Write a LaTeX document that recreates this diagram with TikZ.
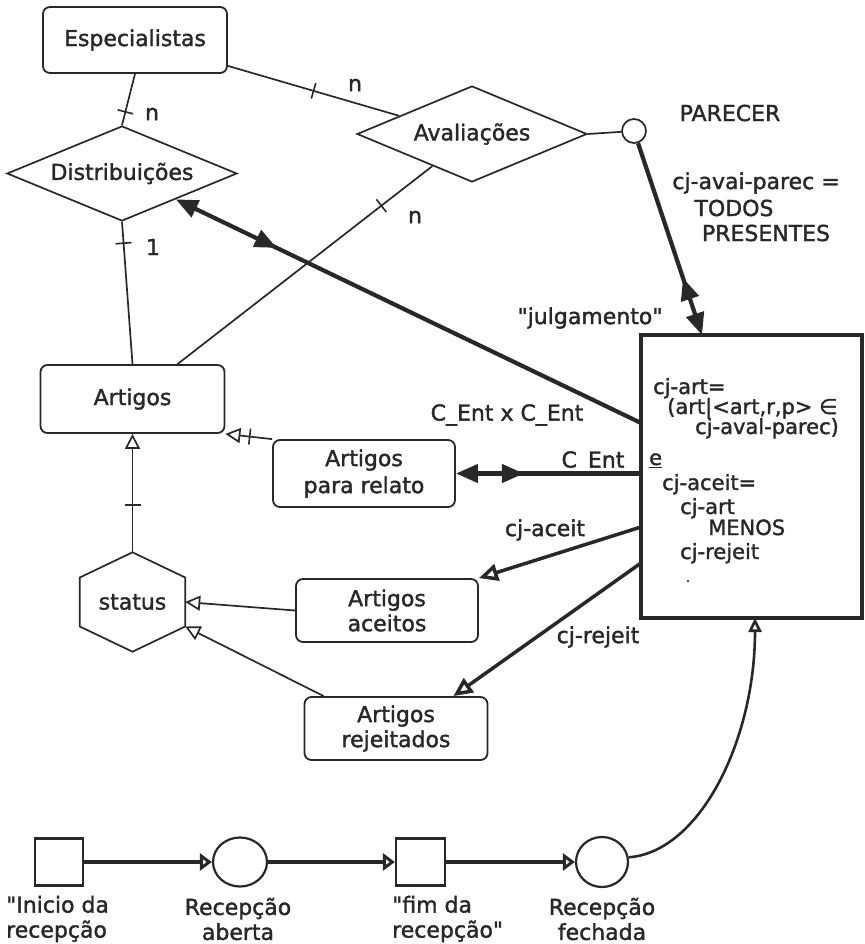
\documentclass[tikz,border=0pt]{standalone}
\usepackage{fontspec}
\setmainfont{DejaVu Sans}[FakeBold=1.6]
\usetikzlibrary{arrows.meta,shapes.geometric,decorations.markings,calc}

\definecolor{ink}{RGB}{40,40,38}
% straight double quote, set as a glyph so that no quote ligature applies
\newcommand\dq{\XeTeXglyph\XeTeXcharglyph"22\relax}

\begin{document}
\begin{tikzpicture}[x=1pt,y=-1pt,
  every node/.style={font=\fontsize{22}{26}\selectfont, text=ink, inner sep=0pt},
  ent/.style={draw=ink, line width=1.8pt, rounded corners=7pt, align=center},
  relship/.style={diamond, draw=ink, line width=1.7pt, shape aspect=2.4},
  lbl/.style={},
  boxtxt/.style={anchor=base west, font=\fontsize{21}{24}\selectfont},
  link/.style={draw=ink, line width=1.7pt},
  gen/.style={link, -{Triangle[open, length=15pt, width=15pt]}},
  bold/.style={draw=ink, line width=4.2pt},
  fhead/.tip={Triangle[length=22pt, width=18pt]},
  ohead/.tip={Triangle[open, length=19pt, width=17pt]},
  pn/.style={draw=ink, line width=3.5pt, -{Triangle[open, length=12pt, width=17pt]}},
  tickat/.style={postaction={decorate, decoration={markings,
      mark=at position #1 with {\draw[-, ink, line width=1.6pt] (0,-8pt) -- (0,8pt);}}}},
  midhead/.style={postaction={decorate, decoration={markings,
      mark=at position #1 with {\arrow[ink]{fhead}}}}},
  revhead/.style={postaction={decorate, decoration={markings,
      mark=at position #1 with {\arrowreversed[ink]{fhead}}}}},
]
\useasboundingbox (0,0) rectangle (864,944);

% ---------------- entity-relationship part ----------------
\node[ent, minimum width=184pt, minimum height=66pt] (esp) at (135,40) {Especialistas};
\node[relship, minimum width=230pt, minimum height=95pt] (dist) at (122,173.5) {Distribuições};
\node[relship, minimum width=230pt, minimum height=96pt] (aval) at (472,134) {Avaliações};
\node[draw=ink, circle, line width=1.7pt, minimum size=24pt] (par) at (634,131) {};
\node[ent, minimum width=184pt, minimum height=68pt] (art) at (132.5,399) {Artigos};
\node[ent, minimum width=182pt, minimum height=67pt, font=\fontsize{22}{27}\selectfont] (rel) at (364,473.5) {Artigos\\para relato};
\node[ent, minimum width=182pt, minimum height=63pt, font=\fontsize{22}{25}\selectfont] (acc) at (387,610.5) {Artigos\\aceitos};
\node[ent, minimum width=183pt, minimum height=63pt, font=\fontsize{22}{25}\selectfont] (rej) at (396,728.5) {Artigos\\rejeitados};

% status: hexagon drawn around a plain node
\node[minimum width=105pt, minimum height=99pt] (stat) at (132.5,602) {status};
\draw[draw=ink, line width=1.7pt] (stat.north) -- ($(stat.east)+(0,-24.5)$) -- ($(stat.east)+(0,24.5)$)
  -- (stat.south) -- ($(stat.west)+(0,24.5)$) -- ($(stat.west)+(0,-24.5)$) -- cycle;

% transition box
\node[draw=ink, line width=3.5pt, minimum width=221pt, minimum height=283pt] (box) at (751.5,476.5) {};
\node[boxtxt] (b1) at (653,394) {cj-art=};
\node[boxtxt] (b2) at (667,414) {(art|<art,r,p> ∈};
\node[boxtxt] (b3) at (695,434) {cj-aval-parec)};
\node[boxtxt] (b4) at (649,465) {\underline{e}};
\node[boxtxt] (b5) at (662,490) {cj-aceit=};
\node[boxtxt] (b6) at (680,514) {cj-art};
\node[boxtxt] (b7) at (708,535) {MENOS};
\node[boxtxt] (b8) at (680,559) {cj-rejeit};
\node[font=\fontsize{14}{14}\selectfont] (b9) at (688,581) {.};

% attachment points on the box border
\coordinate (jb) at (641,423);
\coordinate (ab) at (641,527);
\coordinate (rb) at (641,563);
\coordinate (pb) at (702,335);
\coordinate (fb) at (755,618);

% ER links with cardinality ticks
\draw[link, tickat=0.74] (esp.south) -- (dist.north);
\draw[link, tickat=0.5] ($(esp.south east)+(0,-8)$) -- (aval.166);
\draw[link, tickat=0.15] (dist.south) -- (art.north);
\draw[link, tickat=0.8] ($(art.north)+(45,0)$) -- (aval.219);
\draw[link] (aval.east) -- (par);
\node[lbl] (n1) at (152,114) {n};
\node[lbl] (n2) at (355,85) {n};
\node[lbl] (n3) at (415,217) {n};
\node[lbl] (c1) at (153,247) {1};

% generalisations
\draw[gen, tickat=0.48] (rel.north west) -- (art.south east);
\draw[gen, tickat=0.4] (stat.north) -- (art.south);
\draw[gen] (acc.west) -- (stat.east);
\draw[gen] ($(rej.north west)+(20,0)$) -- ($(stat.east)+(0,24.5)$);

% arcs of the transition
\draw[bold, {fhead}-, midhead=112pt] (dist) -- (jb);
\draw[bold, {fhead}-, midhead=68pt] (rel.east) -- (rel.east -| jb);
\draw[bold, -{fhead}, revhead=-60pt] (par) -- (pb);
\draw[draw=ink, line width=3.5pt, -{ohead}] (ab) -- (acc.north east);
\draw[draw=ink, line width=3.5pt, -{ohead}] (rb) -- ($(rej.north east)+(-35,0)$);

\node[lbl] (lpar) at (730,113) {PARECER};
\node[lbl] (lcj1) at (756,183) {cj-avai-parec =};
\node[lbl] (lcj2) at (734,208) {TODOS};
\node[lbl] (lcj3) at (766,233) {PRESENTES};
\node[lbl] (ljul) at (590,318) {\dq julgamento\dq};
\node[lbl] (lcc) at (507,415) {C\_Ent x C\_Ent};
\node[lbl] (lce) at (593,462) {C\_Ent};
\node[lbl] (lac) at (545,530) {cj-aceit};
\node[lbl] (lre) at (598,637) {cj-rejeit};

% ---------------- Petri net part ----------------
\node[draw=ink, line width=2.2pt, minimum width=48pt, minimum height=47pt] (t1) at (59,862) {};
\node[draw=ink, ellipse, line width=2.2pt, minimum width=54pt, minimum height=49pt] (p1) at (240,862) {};
\node[draw=ink, line width=2.2pt, minimum width=49pt, minimum height=47pt] (t2) at (420.5,862) {};
\node[draw=ink, ellipse, line width=2.2pt, minimum width=52pt, minimum height=50pt] (p2) at (602,862) {};

\draw[pn] (t1) -- (p1);
\draw[pn] (p1) -- (t2);
\draw[pn] (t2) -- (p2);
\draw[draw=ink, line width=2.6pt, -{Triangle[open, length=14pt, width=13pt]}]
  (p2.10) .. controls (700,852) and (755,740) .. (fb);

\node[align=left, anchor=west, font=\fontsize{22}{25}\selectfont] (lt1) at (6,919) {\dq Inicio da\\recepção};
\node[align=center, font=\fontsize{22}{25}\selectfont] (lp1) at (238,919) {Recepção\\aberta};
\node[align=left, anchor=west, font=\fontsize{22}{25}\selectfont] (lt2) at (392,919) {\dq fim da\\recepção\dq};
\node[align=center, font=\fontsize{22}{25}\selectfont] (lp2) at (602,919) {Recepção\\fechada};
\end{tikzpicture}
\end{document}
